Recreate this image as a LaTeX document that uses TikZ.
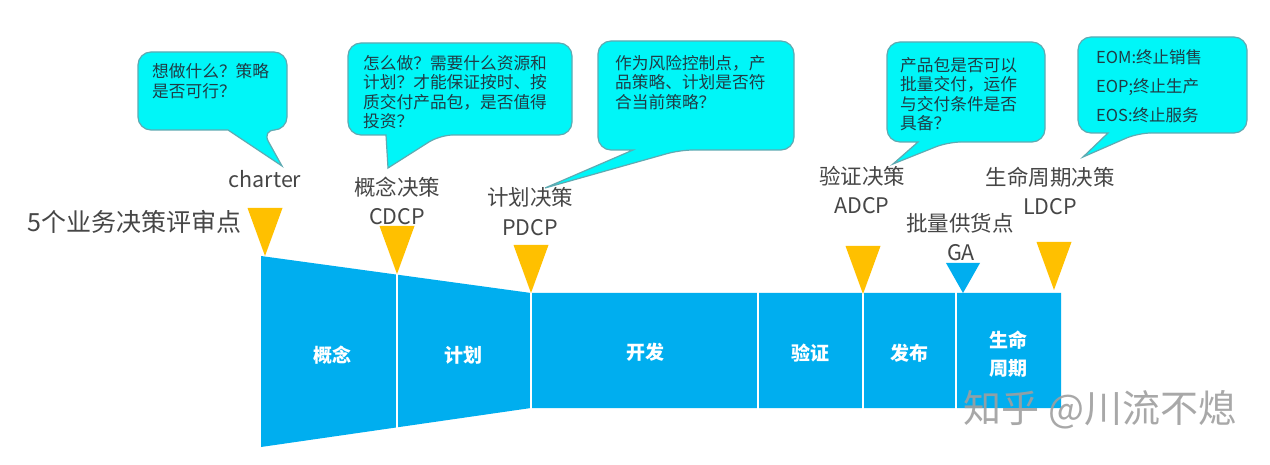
\documentclass[tikz,border=0pt]{standalone}
\usepackage{fontspec}
\setmainfont{Noto Sans CJK SC}
\definecolor{boxblue}{RGB}{0,174,239}
\definecolor{markor}{RGB}{255,192,0}
\definecolor{bub}{RGB}{0,246,248}
\definecolor{bubedge}{RGB}{95,170,178}
\definecolor{bubtext}{RGB}{32,60,70}
\definecolor{lbl}{RGB}{70,70,70}
\begin{document}
\begin{tikzpicture}[x=1pt,y=-1pt,
  bubble/.style={fill=bub,draw=bubedge,line width=1.2pt},
  btext/.style={anchor=north west,inner sep=0pt,align=left,text=bubtext,font=\fontsize{16.7}{19.5}\selectfont},
  lab/.style={inner sep=0pt,text=lbl,font=\fontsize{21.5}{24}\selectfont},
  phase/.style={inner sep=0pt,text=white,align=center,font=\bfseries\fontsize{19}{28}\selectfont},
  tri/.style={fill=markor},
  divider/.style={draw=white,line width=2.2pt}]
\useasboundingbox (0,0) rectangle (1270,465);
\fill[white] (0,0) rectangle (1270,465);

% funnel and bar
\fill[boxblue] (261,256) -- (531,293) -- (1061,293) -- (1061,408) -- (531,408) -- (261,447) -- cycle;
\foreach \x in {397,531,758,863,956} \draw[divider] (\x,262) -- (\x,440);

% phase labels
\node[phase] (p1) at (332,355) {概念};
\node[phase] (p2) at (463,355) {计划};
\node[phase] (p3) at (645,352) {开发};
\node[phase] (p4) at (810,353) {验证};
\node[phase] (p5) at (909,353) {发布};
\node[phase] (p6) at (1008,354) {生命\\周期};

% decision triangles
\fill[tri] (247.5,208) -- (282.5,208) -- (265,256) -- cycle;
\fill[tri] (379.5,226) -- (414.5,226) -- (397,274) -- cycle;
\fill[tri] (513.5,245) -- (548.5,245) -- (531,293) -- cycle;
\fill[tri] (845.5,246) -- (880.5,246) -- (863,294) -- cycle;
\fill[boxblue] (946,263) -- (980,263) -- (963,293) -- cycle;
\fill[tri] (1036.5,242) -- (1071.5,242) -- (1054,290) -- cycle;

% labels
\node[lab,font=\fontsize{25}{28}\selectfont,anchor=east] (title) at (242,222) {5个业务决策评审点};
\node[lab] (charter) at (265,179) {charter};
\node[lab] (cd1) at (397,187) {概念决策};
\node[lab] (cd2) at (397,217) {CDCP};
\node[lab] (pd1) at (530,197) {计划决策};
\node[lab] (pd2) at (530,228) {PDCP};
\node[lab] (ad1) at (862,176) {验证决策};
\node[lab] (ad2) at (862,206) {ADCP};
\node[lab] (ga1) at (960,223) {批量供货点};
\node[lab] (ga2) at (961,253) {GA};
\node[lab] (ld1) at (1050,177) {生命周期决策};
\node[lab] (ld2) at (1050,207) {LDCP};

% speech bubbles
\draw[bubble] (210,52) [rounded corners=13] -- (287,52) -- (287,130) -- (262,130) [sharp corners] -- (282,166) -- (228,130) [rounded corners=13] -- (138,130) -- (138,52) -- cycle;
\node[btext] (b1) at (152,63.5) {想做什么？策略\\是否可行？};

\draw[bubble] (460,43) [rounded corners=13] -- (572,43) -- (572,135) -- (440,135) [sharp corners] -- (388,168) -- (386,135) [rounded corners=13] -- (348,135) -- (348,43) -- cycle;
\node[btext] (b2) at (363,55) {怎么做？需要什么资源和\\计划？才能保证按时、按\\质交付产品包，是否值得\\投资？};

\draw[bubble] (700,41) [rounded corners=13] -- (794,41) -- (794,150) -- (680,150) [sharp corners] -- (545,188) -- (633,150) [rounded corners=13] -- (598,150) -- (598,41) -- cycle;
\node[btext] (b3) at (615,55) {作为风险控制点，产\\品策略、计划是否符\\合当前策略？};

\draw[bubble] (966,42) [rounded corners=13] -- (1045,42) -- (1045,142) -- (948,142) [sharp corners] -- (893,164) -- (918,142) [rounded corners=13] -- (887,142) -- (887,42) -- cycle;
\node[btext] (b4) at (900,57) {产品包是否可以\\批量交付，运作\\与交付条件是否\\具备？};

\draw[bubble] (1160,37) [rounded corners=13] -- (1247,37) -- (1247,133) -- (1138,133) [sharp corners] -- (1083,157) -- (1108,133) [rounded corners=13] -- (1078,133) -- (1078,37) -- cycle;
\node[btext,font=\fontsize{16.5}{29}\selectfont] (b5) at (1096,49) {EOM:终止销售\\EOP;终止生产\\EOS:终止服务};

% watermark
\node[inner sep=0pt,text=gray!75,opacity=0.9,font=\fontsize{38}{40}\selectfont] (wm) at (1100,410) {知乎 @川流不熄};
\end{tikzpicture}
\end{document}
